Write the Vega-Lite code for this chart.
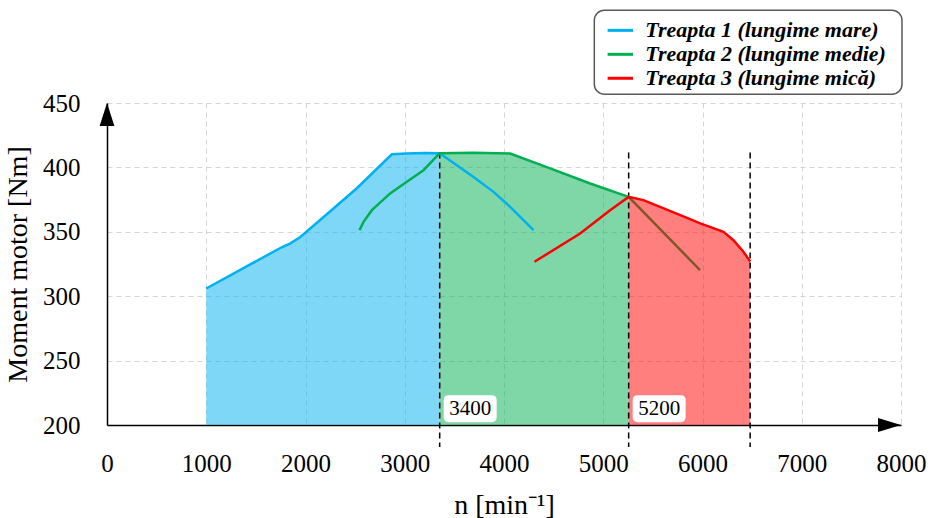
{
  "$schema": "https://vega.github.io/schema/vega-lite/v6.json",
  "width": 794,
  "height": 322,
  "autosize": {"type": "none"},
  "padding": {"left": 107, "top": 103, "right": 30, "bottom": 93},
  "background": "white",
  "config": {
    "font": "Liberation Serif",
    "view": {"stroke": null},
    "axis": {
      "domainColor": "#000000",
      "domainWidth": 1.5,
      "ticks": false,
      "grid": true,
      "gridColor": "#d6d6d6",
      "gridDash": [5, 4],
      "gridWidth": 1,
      "labelFont": "Liberation Serif",
      "labelFontSize": 25,
      "labelColor": "#000000",
      "titleFont": "Liberation Serif",
      "titleFontSize": 28,
      "titleFontWeight": "normal",
      "titleColor": "#000000"
    }
  },
  "data": {
    "values": [
      {"kind": "curve", "s": "Treapta 1 (lungime mare)", "n": 1000, "M": 306},
      {"kind": "curve", "s": "Treapta 1 (lungime mare)", "n": 1760, "M": 338},
      {"kind": "curve", "s": "Treapta 1 (lungime mare)", "n": 1848, "M": 341},
      {"kind": "curve", "s": "Treapta 1 (lungime mare)", "n": 1948, "M": 346},
      {"kind": "curve", "s": "Treapta 1 (lungime mare)", "n": 2250, "M": 366},
      {"kind": "curve", "s": "Treapta 1 (lungime mare)", "n": 2520, "M": 384},
      {"kind": "curve", "s": "Treapta 1 (lungime mare)", "n": 2870, "M": 410.2},
      {"kind": "curve", "s": "Treapta 1 (lungime mare)", "n": 3020, "M": 410.8},
      {"kind": "curve", "s": "Treapta 1 (lungime mare)", "n": 3200, "M": 411.2},
      {"kind": "curve", "s": "Treapta 1 (lungime mare)", "n": 3352, "M": 411},
      {"kind": "curve", "s": "Treapta 1 (lungime mare)", "n": 3693, "M": 392.6},
      {"kind": "curve", "s": "Treapta 1 (lungime mare)", "n": 3894, "M": 381},
      {"kind": "curve", "s": "Treapta 1 (lungime mare)", "n": 4062, "M": 369.4},
      {"kind": "curve", "s": "Treapta 1 (lungime mare)", "n": 4196, "M": 359},
      {"kind": "curve", "s": "Treapta 1 (lungime mare)", "n": 4297, "M": 351.3},
      {"kind": "curve", "s": "Treapta 2 (lungime medie)", "n": 2544, "M": 351.3},
      {"kind": "curve", "s": "Treapta 2 (lungime medie)", "n": 2585, "M": 357.7},
      {"kind": "curve", "s": "Treapta 2 (lungime medie)", "n": 2669, "M": 366.8},
      {"kind": "curve", "s": "Treapta 2 (lungime medie)", "n": 2853, "M": 379.8},
      {"kind": "curve", "s": "Treapta 2 (lungime medie)", "n": 3021, "M": 388.8},
      {"kind": "curve", "s": "Treapta 2 (lungime medie)", "n": 3189, "M": 397.8},
      {"kind": "curve", "s": "Treapta 2 (lungime medie)", "n": 3352, "M": 411},
      {"kind": "curve", "s": "Treapta 2 (lungime medie)", "n": 3693, "M": 411.3},
      {"kind": "curve", "s": "Treapta 2 (lungime medie)", "n": 4062, "M": 410.8},
      {"kind": "curve", "s": "Treapta 2 (lungime medie)", "n": 4465, "M": 399.2},
      {"kind": "curve", "s": "Treapta 2 (lungime medie)", "n": 4868, "M": 387.5},
      {"kind": "curve", "s": "Treapta 2 (lungime medie)", "n": 5256, "M": 377.1},
      {"kind": "curve", "s": "Treapta 2 (lungime medie)", "n": 5975, "M": 320.3},
      {"kind": "curve", "s": "Treapta 3 (lungime mică)", "n": 4307, "M": 326.7},
      {"kind": "curve", "s": "Treapta 3 (lungime mică)", "n": 4767, "M": 348.7},
      {"kind": "curve", "s": "Treapta 3 (lungime mică)", "n": 5069, "M": 366.8},
      {"kind": "curve", "s": "Treapta 3 (lungime mică)", "n": 5256, "M": 377.1},
      {"kind": "curve", "s": "Treapta 3 (lungime mică)", "n": 5405, "M": 374.6},
      {"kind": "curve", "s": "Treapta 3 (lungime mică)", "n": 5776, "M": 363},
      {"kind": "curve", "s": "Treapta 3 (lungime mică)", "n": 5977, "M": 356.5},
      {"kind": "curve", "s": "Treapta 3 (lungime mică)", "n": 6211, "M": 350},
      {"kind": "curve", "s": "Treapta 3 (lungime mică)", "n": 6312, "M": 343.5},
      {"kind": "curve", "s": "Treapta 3 (lungime mică)", "n": 6412, "M": 334.5},
      {"kind": "curve", "s": "Treapta 3 (lungime mică)", "n": 6480, "M": 327},
      {"kind": "rule", "n": 3352, "M": 411.5, "M2": 183},
      {"kind": "rule", "n": 5256, "M": 411.5, "M2": 183},
      {"kind": "rule", "n": 6480, "M": 411.5, "M2": 183},
      {"kind": "label", "n": 3352, "M": 212.7, "label": "3400"},
      {"kind": "label", "n": 5256, "M": 212.7, "label": "5200"},
      {"kind": "arrowY", "n": 0, "M": 450},
      {"kind": "arrowX", "n": 8000, "M": 200},
      {"kind": "legbox", "n": 4910, "n2": 8010, "M": 522, "M2": 456.8},
      {"kind": "legsym", "s": "Treapta 1 (lungime mare)", "n": 5044, "n2": 5300, "M": 506.4},
      {"kind": "legsym", "s": "Treapta 2 (lungime medie)", "n": 5044, "n2": 5300, "M": 487.8},
      {"kind": "legsym", "s": "Treapta 3 (lungime mică)", "n": 5044, "n2": 5300, "M": 469.2},
      {"kind": "legtxt", "s": "Treapta 1 (lungime mare)", "n": 5424, "M": 506.4},
      {"kind": "legtxt", "s": "Treapta 2 (lungime medie)", "n": 5424, "M": 487.8},
      {"kind": "legtxt", "s": "Treapta 3 (lungime mică)", "n": 5424, "M": 469.2}
    ]
  },
  "encoding": {
    "x": {
      "field": "n", "type": "quantitative",
      "scale": {"domain": [0, 8000], "nice": false},
      "axis": {
        "values": [0, 1000, 2000, 3000, 4000, 5000, 6000, 7000, 8000],
        "format": "d",
        "title": "n [min⁻¹]",
        "labelPadding": 38,
        "labelBaseline": "middle",
        "labelFlush": false,
        "labelOverlap": false,
        "titleY": 80,
        "titleBaseline": "middle"
      }
    },
    "y": {
      "field": "M", "type": "quantitative",
      "scale": {"domain": [200, 450], "nice": false, "zero": false},
      "axis": {
        "values": [200, 250, 300, 350, 400, 450],
        "title": "Moment motor [Nm]",
        "labelPadding": 27,
        "labelFlush": false,
        "labelOverlap": false,
        "titleX": -89,
        "titleY": 161,
        "titleAngle": -90,
        "titleAlign": "center",
        "titleBaseline": "middle"
      }
    }
  },
  "layer": [
    {
      "transform": [{"filter": "datum.kind == 'curve' && ((datum.s == 'Treapta 1 (lungime mare)' && datum.n <= 3352) || (datum.s == 'Treapta 2 (lungime medie)' && datum.n >= 3352 && datum.n <= 5256))"}],
      "mark": {"type": "area", "opacity": 0.5},
      "encoding": {
        "y2": {"datum": 200},
        "color": {"field": "s", "type": "nominal", "legend": null}
      }
    },
    {
      "transform": [{"filter": "datum.kind == 'curve' && datum.s == 'Treapta 2 (lungime medie)' && datum.n >= 5256"}],
      "mark": {"type": "line", "strokeWidth": 2.5},
      "encoding": {
        "color": {"field": "s", "type": "nominal", "legend": null}
      }
    },
    {
      "transform": [{"filter": "datum.kind == 'curve' && datum.s == 'Treapta 3 (lungime mică)' && datum.n >= 5256"}],
      "mark": {"type": "area", "opacity": 0.5},
      "encoding": {
        "y2": {"datum": 200},
        "color": {"field": "s", "type": "nominal", "legend": null}
      }
    },
    {
      "transform": [{"filter": "datum.kind == 'rule'"}],
      "mark": {"type": "rule", "color": "#000000", "strokeWidth": 1.5, "strokeDash": [6, 4]},
      "encoding": {
        "y2": {"field": "M2"}
      }
    },
    {
      "transform": [{"filter": "datum.kind == 'curve' && !(datum.s == 'Treapta 2 (lungime medie)' && datum.n > 5256)"}],
      "mark": {"type": "line", "strokeWidth": 2.5},
      "encoding": {
        "color": {"field": "s", "type": "nominal", "legend": null,
          "scale": {"domain": ["Treapta 1 (lungime mare)", "Treapta 2 (lungime medie)", "Treapta 3 (lungime mică)"], "range": ["#00b0f0", "#00b050", "#ff0000"]}}
      }
    },
    {
      "transform": [{"filter": "datum.kind == 'label'"}],
      "mark": {"type": "point", "filled": true, "color": "#ffffff", "opacity": 1, "size": 2809, "xOffset": 30.5,
        "shape": "M-0.81,-0.51 L0.81,-0.51 Q1,-0.51 1,-0.32 L1,0.32 Q1,0.51 0.81,0.51 L-0.81,0.51 Q-1,0.51 -1,0.32 L-1,-0.32 Q-1,-0.51 -0.81,-0.51 Z"},
      "encoding": {}
    },
    {
      "transform": [{"filter": "datum.kind == 'label'"}],
      "mark": {"type": "text", "fontSize": 21, "color": "#000000", "xOffset": 30.5, "align": "center", "baseline": "middle"},
      "encoding": {"text": {"field": "label"}}
    },
    {
      "transform": [{"filter": "datum.kind == 'arrowY'"}],
      "mark": {"type": "point", "filled": true, "color": "#000000", "opacity": 1, "size": 529, "yOffset": 11.5,
        "shape": "M0,-1 L0.64,1 L-0.64,1 Z"},
      "encoding": {}
    },
    {
      "transform": [{"filter": "datum.kind == 'arrowX'"}],
      "mark": {"type": "point", "filled": true, "color": "#000000", "opacity": 1, "size": 529, "xOffset": -11.5,
        "shape": "M1,0 L-1,0.61 L-1,-0.61 Z"},
      "encoding": {}
    },
    {
      "transform": [{"filter": "datum.kind == 'legbox'"}],
      "mark": {"type": "rect", "fill": "#ffffff", "stroke": "#595959", "strokeWidth": 1.5, "cornerRadius": 10},
      "encoding": {"x2": {"field": "n2"}, "y2": {"field": "M2"}}
    },
    {
      "transform": [{"filter": "datum.kind == 'legsym'"}],
      "mark": {"type": "rule", "strokeWidth": 3},
      "encoding": {
        "x2": {"field": "n2"},
        "color": {"field": "s", "type": "nominal", "legend": null}
      }
    },
    {
      "transform": [{"filter": "datum.kind == 'legtxt'"}],
      "mark": {"type": "text", "align": "left", "baseline": "middle", "fontSize": 22, "fontStyle": "italic", "fontWeight": "bold", "color": "#000000"},
      "encoding": {"text": {"field": "s"}}
    }
  ]
}
